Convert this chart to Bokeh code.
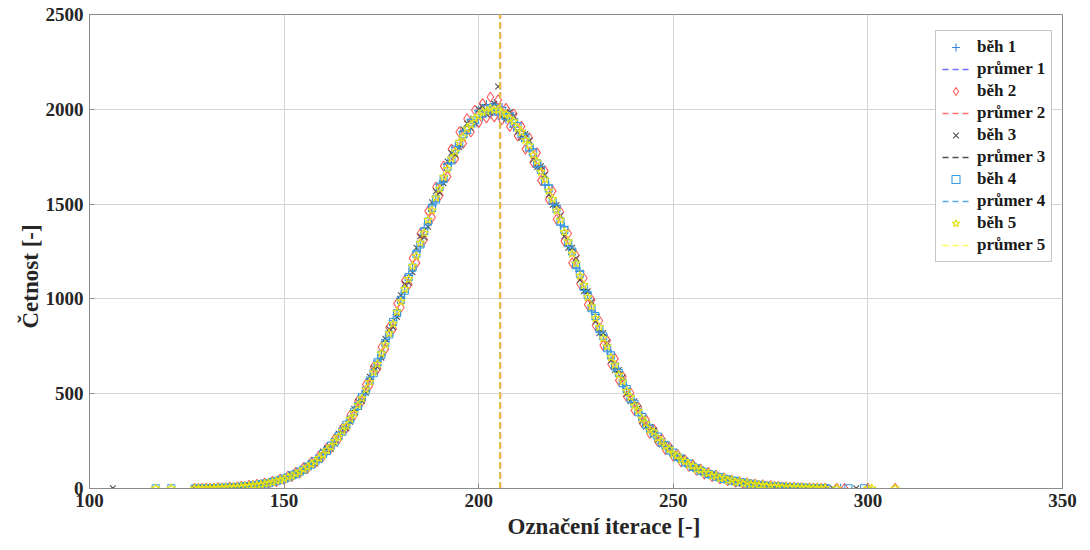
from bokeh.plotting import figure
from bokeh.models import Range1d, Legend, LegendItem, FixedTicker, Title
from bokeh.embed import file_html
from bokeh.resources import INLINE

# ---------------- data ----------------
iterace = list(range(127, 290))  # iteration labels shared by the runs

beh1 = ([0, 1, 2] +
        [1, 3, 2, 4, 3, 6, 5, 8, 9, 9] +
        [13, 12, 18, 17, 24, 23, 31, 32, 42, 43] +
        [55, 56, 71, 74, 92, 97, 118, 124, 146, 157] +
        [185, 196, 229, 241, 282, 296, 340, 360, 410, 431] +
        [488, 512, 574, 604, 672, 702, 775, 806, 885, 918] +
        [1003, 1035, 1124, 1158, 1248, 1277, 1370, 1398, 1490, 1515] +
        [1605, 1622, 1710, 1718, 1800, 1805, 1882, 1872, 1945, 1926] +
        [1995, 1960, 2025, 1975, 2030, 1970, 2010, 1948, 1982, 1905] +
        [1930, 1850, 1870, 1780, 1792, 1695, 1700, 1600, 1600, 1498] +
        [1492, 1390, 1380, 1278, 1262, 1164, 1145, 1050, 1030, 940] +
        [918, 832, 810, 731, 708, 636, 615, 550, 529, 469] +
        [451, 397, 381, 333, 319, 288, 278, 240, 230, 199] +
        [191, 165, 160, 137, 132, 113, 108, 92, 89, 75] +
        [72, 62, 60, 50, 49, 41, 39, 33, 31, 26] +
        [25, 20, 20, 16, 16, 12, 12, 9, 10, 7] +
        [8, 5, 6, 4, 5, 3, 3, 2, 3, 1])

beh2 = ([1, 0, 1] +
        [3, 1, 2, 5, 4, 4, 8, 6, 9, 12] +
        [10, 17, 15, 22, 19, 29, 26, 38, 36, 50] +
        [48, 66, 63, 85, 82, 110, 106, 140, 136, 172] +
        [170, 215, 212, 262, 262, 318, 320, 388, 386, 462] +
        [462, 548, 545, 640, 632, 745, 735, 850, 842, 975] +
        [955, 1095, 1075, 1215, 1190, 1345, 1312, 1463, 1430, 1590] +
        [1545, 1700, 1645, 1790, 1740, 1880, 1820, 1950, 1880, 1995] +
        [1930, 2030, 1955, 2065, 1960, 2050, 1945, 2005, 1910, 1975] +
        [1860, 1910, 1790, 1850, 1720, 1770, 1625, 1675, 1525, 1570] +
        [1420, 1460, 1305, 1345, 1190, 1230, 1080, 1110, 970, 995] +
        [860, 885, 755, 780, 655, 685, 570, 590, 485, 505] +
        [412, 430, 348, 362, 290, 312, 250, 262, 205, 218] +
        [170, 182, 140, 152, 116, 126, 95, 103, 76, 85] +
        [62, 70, 51, 57, 41, 46, 33, 37, 26, 30] +
        [21, 24, 16, 19, 13, 15, 10, 12, 8, 9] +
        [6, 7, 4, 5, 3, 4, 2, 3, 1, 3])

beh3 = ([1, 2, 1] +
        [1, 3, 4, 2, 5, 6, 4, 9, 10, 8] +
        [14, 16, 13, 17, 26, 28, 24, 30, 44, 48] +
        [46, 55, 74, 83, 80, 92, 122, 136, 132, 150] +
        [195, 212, 210, 236, 290, 318, 318, 352, 420, 458] +
        [462, 505, 590, 636, 640, 690, 790, 842, 850, 905] +
        [1020, 1080, 1085, 1140, 1270, 1330, 1325, 1380, 1510, 1568] +
        [1560, 1610, 1725, 1770, 1760, 1800, 1895, 1925, 1900, 1925] +
        [2000, 2015, 1975, 1980, 2030, 2120, 1960, 1950, 1985, 1965] +
        [1880, 1850, 1870, 1835, 1735, 1695, 1700, 1655, 1550, 1495] +
        [1495, 1440, 1330, 1270, 1270, 1215, 1100, 1040, 1040, 985] +
        [880, 820, 820, 770, 675, 625, 625, 585, 500, 460] +
        [460, 425, 355, 325, 325, 308, 255, 232, 236, 215] +
        [178, 160, 162, 148, 122, 110, 110, 100, 82, 72] +
        [74, 68, 55, 48, 50, 45, 36, 31, 32, 29] +
        [23, 19, 20, 18, 14, 12, 12, 11, 8, 7] +
        [8, 7, 5, 3, 4, 4, 2, 2, 2, 1])

beh4 = ([0, 1, 1] +
        [2, 3, 2, 3, 5, 4, 6, 8, 7, 10] +
        [13, 13, 17, 18, 23, 26, 28, 35, 38, 46] +
        [53, 58, 69, 76, 89, 99, 115, 126, 145, 158] +
        [182, 198, 226, 245, 277, 300, 336, 364, 405, 435] +
        [482, 517, 570, 608, 665, 706, 768, 812, 878, 925] +
        [995, 1043, 1115, 1165, 1238, 1287, 1358, 1408, 1480, 1525] +
        [1592, 1633, 1697, 1730, 1788, 1818, 1868, 1890, 1930, 1943] +
        [1975, 1978, 2000, 1995, 2008, 1990, 1992, 1966, 1960, 1928] +
        [1912, 1870, 1850, 1800, 1772, 1715, 1680, 1620, 1582, 1516] +
        [1476, 1408, 1364, 1294, 1250, 1178, 1133, 1063, 1020, 951] +
        [909, 842, 803, 740, 702, 644, 610, 556, 525, 474] +
        [447, 402, 378, 337, 316, 291, 274, 242, 228, 201] +
        [189, 167, 158, 138, 131, 114, 107, 93, 88, 76] +
        [72, 62, 60, 51, 49, 41, 40, 33, 31, 26] +
        [25, 20, 20, 16, 16, 12, 12, 9, 10, 7] +
        [8, 5, 6, 4, 5, 3, 3, 2, 3, 2])

beh5 = ([1, 1, 1] +
        [2, 2, 3, 4, 4, 5, 5, 7, 8, 9] +
        [12, 13, 17, 19, 21, 26, 29, 33, 40, 45] +
        [51, 60, 67, 78, 87, 101, 112, 128, 142, 161] +
        [179, 202, 221, 249, 272, 304, 331, 368, 399, 440] +
        [476, 523, 562, 614, 657, 713, 759, 819, 869, 933] +
        [986, 1052, 1105, 1174, 1227, 1296, 1348, 1417, 1468, 1534] +
        [1581, 1643, 1685, 1741, 1777, 1828, 1856, 1899, 1919, 1953] +
        [1964, 1988, 1990, 2004, 1996, 1999, 1981, 1976, 1950, 1937] +
        [1902, 1880, 1839, 1810, 1761, 1725, 1670, 1630, 1571, 1527] +
        [1465, 1418, 1353, 1304, 1238, 1188, 1122, 1073, 1009, 961] +
        [898, 852, 792, 749, 692, 653, 600, 565, 515, 483] +
        [438, 410, 369, 345, 308, 299, 266, 250, 220, 208] +
        [182, 174, 151, 145, 124, 120, 101, 99, 82, 82] +
        [66, 68, 54, 56, 43, 46, 34, 38, 26, 31] +
        [22, 23, 17, 19, 13, 15, 9, 12, 7, 10] +
        [7, 8, 5, 6, 4, 5, 3, 4, 2, 3])

# sparse tail points (iteration, count)
tail1_x, tail1_y = [290, 293, 300], [1, 1, 1]
tail2_x, tail2_y = [292, 294, 300, 307], [1, 1, 1, 1]
tail3_x, tail3_y = [106, 291, 297], [1, 1, 1]
tail4_x, tail4_y = [117, 121, 295, 299], [1, 1, 1, 1]
tail5_x, tail5_y = [117, 121, 292, 300, 301, 307], [1, 1, 1, 1, 1, 1]

prumery = [205.4, 205.6, 205.5, 205.5, 205.5]  # mean iteration of each run

x_ticks = [100, 150, 200, 250, 300, 350]
y_ticks = [0, 500, 1000, 1500, 2000, 2500]

beh_labels = ["běh 1", "běh 2", "běh 3", "běh 4", "běh 5"]
prumer_labels = ["průmer 1", "průmer 2", "průmer 3", "průmer 4", "průmer 5"]
x_title = "Označení iterace [-]"
y_title = "Četnost [-]"

# ---------------- figure ----------------
SERIF = "Liberation Serif"
p = figure(width=1090, height=550, output_backend="svg", toolbar_location=None,
           x_range=Range1d(100, 350), y_range=Range1d(0, 2500),
           min_border_left=89, min_border_right=28, min_border_top=14,
           min_border_bottom=62, background_fill_color="white",
           border_fill_color="white")

p.xaxis.ticker = FixedTicker(ticks=x_ticks)
p.yaxis.ticker = FixedTicker(ticks=y_ticks)
for ax in (p.xaxis, p.yaxis):
    ax.major_label_text_font = SERIF
    ax.major_label_text_font_style = "bold"
    ax.major_label_text_font_size = "19px"
    ax.major_label_text_color = "#262626"
    ax.major_tick_in = 5
    ax.major_tick_out = 0
    ax.minor_tick_line_color = None
    ax.axis_line_color = "#8c8c8c"
    ax.major_tick_line_color = "#8c8c8c"
p.xaxis.major_label_standoff = 5
p.yaxis.major_label_standoff = 6

# axis titles (placed as in the reference, slightly off-centre)
p.add_layout(Title(text=x_title, align="left", offset=418, standoff=4,
                   text_font=SERIF, text_font_style="bold",
                   text_font_size="23px", text_color="#262626"), "below")
p.add_layout(Title(text=y_title, align="left", offset=160, standoff=0,
                   text_font=SERIF, text_font_style="bold",
                   text_font_size="23px", text_color="#262626"), "left")

p.grid.grid_line_color = "#d4d4d4"
p.grid.grid_line_width = 1
p.outline_line_color = "#8c8c8c"
p.outline_line_width = 1

mk_colors = ["#3d85dc", "#ff5a5a", "#505050", "#3a9ae0", "#e2e21a"]
ln_colors = ["#6f6fff", "#ff6f6f", "#505050", "#58a8ea", "#ffff5a"]
markers = ["cross", "diamond", "x", "square", "star"]
sizes = [9, 10, 8, 7, 9]
series = [beh1, beh2, beh3, beh4, beh5]
tails = [(tail1_x, tail1_y), (tail2_x, tail2_y), (tail3_x, tail3_y),
         (tail4_x, tail4_y), (tail5_x, tail5_y)]

items = []
for i in range(5):
    xs = iterace + tails[i][0]
    ys = series[i] + tails[i][1]
    r = p.scatter(xs, ys, marker=markers[i], size=sizes[i],
                  line_color=mk_colors[i], fill_color=None, line_width=1.1)
    m = p.segment(x0=[prumery[i]], y0=[y_ticks[0]], x1=[prumery[i]], y1=[y_ticks[-1]],
                  line_color=ln_colors[i], line_dash="6 4", line_width=1.5)
    items.append(LegendItem(label=beh_labels[i], renderers=[r]))
    items.append(LegendItem(label=prumer_labels[i], renderers=[m]))

# visible blended mean line (overlapping dashed mean lines of all runs)
p.segment(x0=[prumery[4]], y0=[y_ticks[0]], x1=[prumery[4]], y1=[y_ticks[-1]],
          line_color="#e8bd3e", line_dash="6 4", line_width=2)

legend = Legend(items=items, location=(846, 226),
                border_line_color="#8c8c8c", border_line_width=1,
                background_fill_color="white", background_fill_alpha=1,
                label_text_font=SERIF, label_text_font_style="bold",
                label_text_font_size="17px", label_text_color="#1a1a1a",
                glyph_width=27, glyph_height=20, label_height=20,
                spacing=2, padding=6, label_standoff=8, margin=0)
p.add_layout(legend)

open("out.html", "w").write(file_html(p, INLINE))
